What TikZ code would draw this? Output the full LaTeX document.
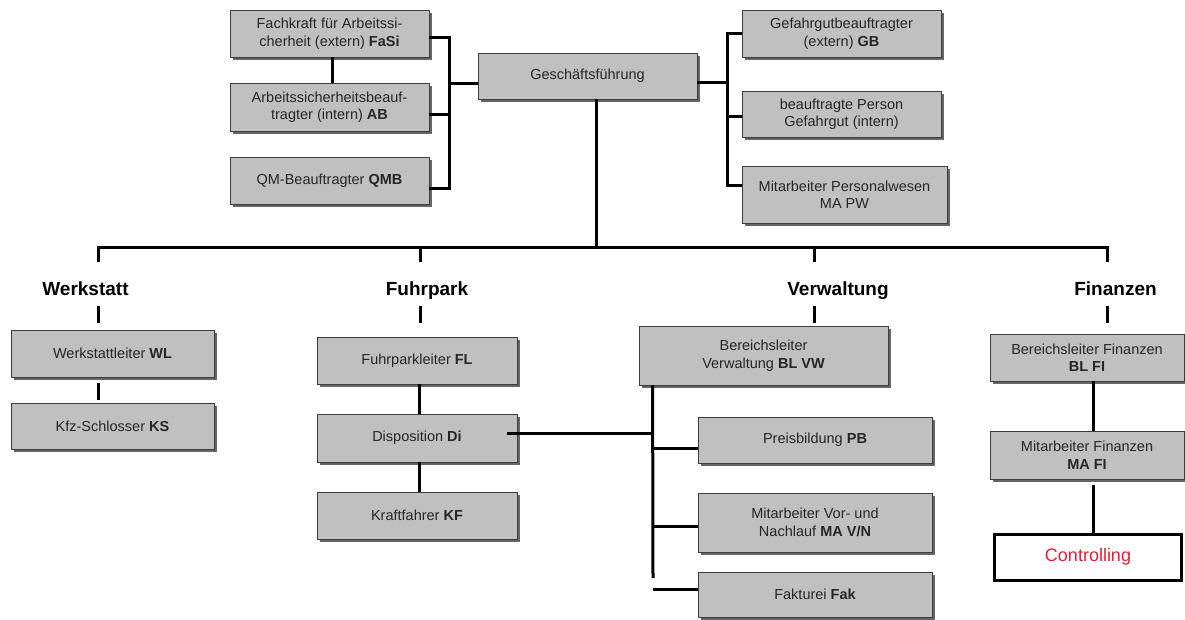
\documentclass[tikz,border=0pt]{standalone}
\usepackage{fontspec}
\setmainfont{Liberation Sans}
\usetikzlibrary{shadows}
\definecolor{boxgray}{RGB}{192,192,192}
\definecolor{boxline}{RGB}{60,60,60}
\definecolor{ctrlred}{RGB}{232,28,52}
\begin{document}
\begin{tikzpicture}[x=1pt,y=-1pt,
  orgbox/.style={draw=boxline, line width=0.8pt, fill=boxgray, align=center, inner sep=0pt,
    text=black!85, font=\fontsize{14.5}{17.5}\selectfont,
    drop shadow={shadow xshift=2.5pt, shadow yshift=-2.5pt, fill=black!60, opacity=1}},
  head/.style={font=\bfseries\fontsize{19}{22}\selectfont, inner sep=0pt, text height=33pt, text depth=11pt, anchor=base},
  conn/.style={line width=3pt, black, line join=miter},
]
\fill[white] (0,0) rectangle (1185,619);
\useasboundingbox (0,0) rectangle (1185,619);

% top area
\node[orgbox, minimum width=199pt, minimum height=47pt] (fasi) at (329.5,33.5) {Fachkraft für Arbeitssi-\\cherheit (extern) \textbf{FaSi}};
\node[orgbox, minimum width=199pt, minimum height=48pt] (ab) at (329.5,107) {Arbeitssicherheitsbeauf-\\tragter (intern) \textbf{AB}};
\node[orgbox, minimum width=199pt, minimum height=47pt] (qmb) at (329.5,180.5) {QM-Beauftragter \textbf{QMB}};
\node[orgbox, minimum width=219pt, minimum height=46pt] (gf) at (587.5,76) {Geschäftsführung};
\node[orgbox, minimum width=199pt, minimum height=47pt] (gb) at (841.5,33.5) {Gefahrgutbeauftragter\\(extern) \textbf{GB}};
\node[orgbox, minimum width=199pt, minimum height=46pt] (bp) at (841.5,114) {beauftragte Person\\Gefahrgut (intern)};
\node[orgbox, minimum width=205pt, minimum height=57pt] (mapw) at (844.5,194.5) {Mitarbeiter Personalwesen\\MA PW};

% headings
\node[head] (werk) at (85.5,295) {Werkstatt};
\node[head] (fuhr) at (427,295) {Fuhrpark};
\node[head] (verw) at (838,295) {Verwaltung};
\node[head] (fin) at (1115.5,295) {Finanzen};

% lower boxes
\node[orgbox, minimum width=203pt, minimum height=47pt] (wl) at (112.5,353.5) {Werkstattleiter \textbf{WL}};
\node[orgbox, minimum width=203pt, minimum height=46pt] (ks) at (112.5,426) {Kfz-Schlosser \textbf{KS}};
\node[orgbox, minimum width=200pt, minimum height=47pt] (fl) at (417,360.5) {Fuhrparkleiter \textbf{FL}};
\node[orgbox, minimum width=200pt, minimum height=48pt] (di) at (417,438) {Disposition \textbf{Di}};
\node[orgbox, minimum width=200pt, minimum height=47pt] (kf) at (417,515.5) {Kraftfahrer \textbf{KF}};
\node[orgbox, minimum width=249pt, minimum height=59pt] (blvw) at (763.5,355.5) {Bereichsleiter\\Verwaltung \textbf{BL VW}};
\node[orgbox, minimum width=234pt, minimum height=46pt] (pb) at (815,440) {Preisbildung \textbf{PB}};
\node[orgbox, minimum width=234pt, minimum height=59pt] (mavn) at (815,522.5) {Mitarbeiter Vor- und\\Nachlauf \textbf{MA V/N}};
\node[orgbox, minimum width=234pt, minimum height=45pt] (fak) at (815,594.5) {Fakturei \textbf{Fak}};
\node[orgbox, minimum width=194pt, minimum height=47pt] (blfi) at (1087,357.5) {Bereichsleiter Finanzen\\\textbf{BL FI}};
\node[orgbox, minimum width=194pt, minimum height=48pt] (mafi) at (1087,455) {Mitarbeiter Finanzen\\\textbf{MA FI}};
\node[draw=black, line width=3pt, fill=white, minimum width=187pt, minimum height=46pt, inner sep=0pt,
  text=ctrlred, font=\fontsize{18}{21}\selectfont] (ctrl) at (1088,557) {Controlling};

% coordinates
\coordinate (lb) at (449,83);
\coordinate (rb) at (727,82);
\coordinate (bw) at (98,247);
\coordinate (bf) at (420,247);
\coordinate (bv) at (814,247);
\coordinate (bfi) at (1107,247);
\coordinate (vb) at (653,578);
\coordinate (dst) at ([xshift=-10pt,yshift=5pt]di.east);

% top connectors
\draw[conn] ([xshift=2.5pt]fasi.south) -- ([xshift=2.5pt]ab.north);
\draw[conn] ([yshift=-3.5pt]fasi.east) -| (lb) |- ([yshift=-7.5pt]qmb.east);
\draw[conn] ([yshift=-7pt]ab.east) -- ([yshift=-7pt]ab.east -| lb);
\draw[conn] (lb) -- ([yshift=-7pt]gf.west);
\draw[conn] ([yshift=-6pt]gf.east) -- (rb);
\draw[conn] (gb.west) -| (rb) |- ([yshift=9.5pt]mapw.west);
\draw[conn] ([yshift=-2pt]bp.west) -- ([yshift=-2pt]bp.west -| rb);

% bus
\draw[conn] ([xshift=8.5pt]gf.south) -- ([xshift=8.5pt]gf.south |- bw);
\draw[conn] (bw |- werk.north) -- (bw) -- (bfi) -- (bfi |- fin.north);
\draw[conn] (bf) -- (bf |- fuhr.north);
\draw[conn] (bv) -- (bv |- verw.north);

% short lines under headings
\draw[conn] (bw |- werk.south) -- ++(0,17);
\draw[conn] (bf |- fuhr.south) -- ++(0,17);
\draw[conn] (bv |- verw.south) -- ++(0,17);
\draw[conn] (bfi |- fin.south) -- ++(0,17);

% Werkstatt
\draw[conn] ([yshift=-6pt]wl.south -| bw) -- ([yshift=3pt]ks.north -| bw);

% Fuhrpark
\draw[conn] ([xshift=2.5pt]fl.south) -- ([xshift=2.5pt]di.north);
\draw[conn] ([xshift=2.5pt]di.south) -- ([xshift=2.5pt]kf.north);

% Verwaltung
\draw[conn] ([xshift=14pt]blvw.south west) -- (vb);
\draw[conn] (dst) -- (dst -| vb);
\draw[conn] ([yshift=-8pt]pb.west) -- ([yshift=-8pt]pb.west -| vb);
\draw[conn] ([yshift=-3.5pt]mavn.west) -- ([yshift=-3.5pt]mavn.west -| vb);
\draw[conn] ([yshift=5.5pt]fak.west) -- ([yshift=5.5pt]fak.west -| vb);

% Finanzen
\draw[conn] ([xshift=6pt]blfi.south) -- ([xshift=6pt]mafi.north);
\draw[conn] ([xshift=6pt,yshift=-6pt]mafi.south) -- ([xshift=6pt]mafi.south |- ctrl.north);
\end{tikzpicture}
\end{document}
